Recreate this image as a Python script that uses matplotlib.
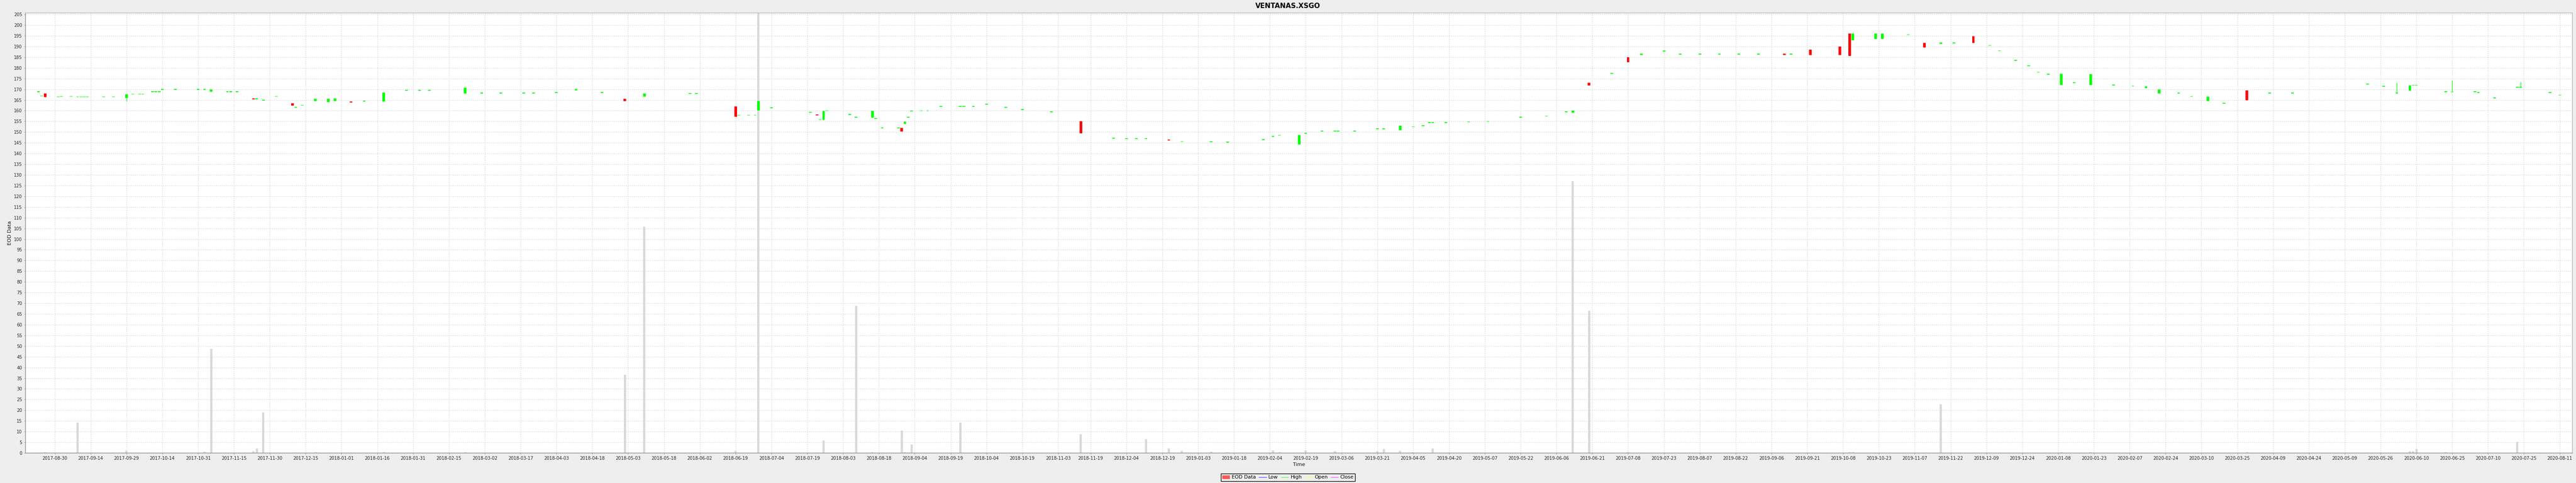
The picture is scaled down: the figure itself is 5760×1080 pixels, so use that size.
import numpy as np
import matplotlib
matplotlib.use('Agg')
import matplotlib.pyplot as plt
from matplotlib.lines import Line2D
from matplotlib.patches import Patch

# --
# data

title = 'VENTANAS.XSGO'

tick_labels = [
  '2017-08-30', '2017-09-14', '2017-09-29', '2017-10-14', '2017-10-31', '2017-11-15',
  '2017-11-30', '2017-12-15', '2018-01-01', '2018-01-16', '2018-01-31', '2018-02-15',
  '2018-03-02', '2018-03-17', '2018-04-03', '2018-04-18', '2018-05-03', '2018-05-18',
  '2018-06-02', '2018-06-19', '2018-07-04', '2018-07-19', '2018-08-03', '2018-08-18',
  '2018-09-04', '2018-09-19', '2018-10-04', '2018-10-19', '2018-11-03', '2018-11-19',
  '2018-12-04', '2018-12-19', '2019-01-03', '2019-01-18', '2019-02-04', '2019-02-19',
  '2019-03-06', '2019-03-21', '2019-04-05', '2019-04-20', '2019-05-07', '2019-05-22',
  '2019-06-06', '2019-06-21', '2019-07-08', '2019-07-23', '2019-08-07', '2019-08-22',
  '2019-09-06', '2019-09-21', '2019-10-08', '2019-10-23', '2019-11-07', '2019-11-22',
  '2019-12-09', '2019-12-24', '2020-01-08', '2020-01-23', '2020-02-07', '2020-02-24',
  '2020-03-10', '2020-03-25', '2020-04-09', '2020-04-24', '2020-05-09', '2020-05-26',
  '2020-06-10', '2020-06-25', '2020-07-10', '2020-07-25', '2020-08-11',
]

dates = [
  '2017-08-23', '2017-08-24', '2017-08-25', '2017-08-31', '2017-09-01', '2017-09-06',
  '2017-09-08', '2017-09-11', '2017-09-12', '2017-09-13', '2017-09-20', '2017-09-25',
  '2017-09-29', '2017-10-03', '2017-10-05', '2017-10-06', '2017-10-11', '2017-10-12',
  '2017-10-13', '2017-10-16', '2017-10-20', '2017-10-31', '2017-11-02', '2017-11-06',
  '2017-11-13', '2017-11-14', '2017-11-16', '2017-11-23', '2017-11-24', '2017-11-28',
  '2017-12-04', '2017-12-11', '2017-12-12', '2017-12-14', '2017-12-20', '2017-12-26',
  '2017-12-28', '2018-01-04', '2018-01-10', '2018-01-18', '2018-01-29', '2018-02-02',
  '2018-02-07', '2018-02-22', '2018-03-01', '2018-03-09', '2018-03-20', '2018-03-23',
  '2018-04-03', '2018-04-11', '2018-04-23', '2018-05-02', '2018-05-10', '2018-05-30',
  '2018-06-01', '2018-06-19', '2018-06-20', '2018-06-25', '2018-06-27', '2018-06-28',
  '2018-07-04', '2018-07-20', '2018-07-24', '2018-07-25', '2018-07-26', '2018-07-27',
  '2018-08-07', '2018-08-09', '2018-08-16', '2018-08-17', '2018-08-21', '2018-08-28',
  '2018-08-29', '2018-08-30', '2018-08-31', '2018-09-03', '2018-09-06', '2018-09-10',
  '2018-09-14', '2018-09-24', '2018-09-25', '2018-09-28', '2018-10-04', '2018-10-12',
  '2018-10-19', '2018-11-01', '2018-11-14', '2018-11-28', '2018-12-04', '2018-12-07',
  '2018-12-12', '2018-12-21', '2018-12-27', '2019-01-09', '2019-01-16', '2019-01-31',
  '2019-02-05', '2019-02-07', '2019-02-15', '2019-02-19', '2019-02-26', '2019-03-04',
  '2019-03-05', '2019-03-12', '2019-03-21', '2019-03-25', '2019-04-01', '2019-04-05',
  '2019-04-10', '2019-04-12', '2019-04-15', '2019-04-19', '2019-04-30', '2019-05-08',
  '2019-05-22', '2019-06-03', '2019-06-11', '2019-06-13', '2019-06-20', '2019-07-01',
  '2019-07-08', '2019-07-12', '2019-07-23', '2019-07-30', '2019-08-07', '2019-08-15',
  '2019-08-23', '2019-09-02', '2019-09-12', '2019-09-16', '2019-09-24', '2019-10-07',
  '2019-10-10', '2019-10-11', '2019-10-22', '2019-10-24', '2019-11-05', '2019-11-12',
  '2019-11-19', '2019-11-25', '2019-12-03', '2019-12-10', '2019-12-13', '2019-12-20',
  '2019-12-26', '2019-12-31', '2020-01-03', '2020-01-09', '2020-01-15', '2020-01-22',
  '2020-01-31', '2020-02-10', '2020-02-14', '2020-02-20', '2020-02-28', '2020-03-05',
  '2020-03-12', '2020-03-19', '2020-03-30', '2020-04-08', '2020-04-17', '2020-05-20',
  '2020-05-27', '2020-06-02', '2020-06-08', '2020-06-09', '2020-06-10', '2020-06-23',
  '2020-06-25', '2020-07-06', '2020-07-07', '2020-07-14', '2020-07-23', '2020-07-24',
  '2020-08-06', '2020-08-11',
]

opens = [
  168.9, 166.9, 168.0, 166.5, 166.7, 166.7, 166.5, 166.5, 166.5, 166.5, 166.5, 166.5,
  165.9, 167.7, 167.7, 167.7, 168.9, 168.9, 168.9, 169.9, 169.9, 169.9, 169.9, 168.9,
  168.9, 168.9, 168.9, 165.8, 165.5, 164.9, 166.7, 163.5, 161.5, 162.5, 164.5, 164.0,
  164.5, 164.3, 164.5, 164.3, 169.5, 169.5, 169.5, 168.0, 168.2, 168.2, 168.2, 168.2,
  168.5, 169.5, 168.5, 165.5, 166.5, 168.0, 168.0, 162.0, 157.9, 157.9, 157.9, 160.1,
  161.3, 159.2, 158.3, 155.8, 155.8, 160.0, 158.2, 156.9, 156.8, 156.3, 151.9, 151.9,
  152.0, 153.9, 156.9, 159.9, 160.0, 160.0, 162.0, 162.0, 162.0, 162.0, 163.0, 161.5,
  160.5, 159.5, 155.0, 147.2, 147.0, 147.0, 147.0, 146.6, 145.6, 145.5, 145.3, 146.5,
  148.0, 148.5, 144.2, 149.5, 150.5, 150.5, 150.5, 150.5, 151.5, 151.5, 151.0, 152.5,
  153.0, 154.5, 154.5, 154.5, 154.8, 155.0, 157.0, 157.5, 159.5, 159.0, 173.0, 177.5,
  185.0, 186.0, 187.6, 186.4, 186.4, 186.4, 186.4, 186.4, 186.7, 186.4, 188.5, 190.0,
  196.0, 193.0, 193.5, 193.5, 195.5, 191.6, 191.3, 191.6, 194.8, 190.5, 188.0, 183.5,
  181.0, 178.0, 177.0, 172.0, 173.0, 172.0, 172.0, 171.5, 170.5, 168.0, 168.2, 166.7,
  164.5, 163.5, 169.5, 168.2, 168.2, 172.5, 171.4, 168.3, 169.3, 171.9, 171.9, 168.9,
  168.8, 168.9, 168.4, 165.9, 170.9, 170.9, 168.4, 167.3,
]

highs = [
  168.9, 166.9, 168.0, 166.5, 166.7, 166.7, 166.5, 166.5, 166.5, 166.5, 166.5, 166.5,
  167.6, 167.7, 167.7, 167.7, 168.9, 168.9, 168.9, 169.9, 169.9, 169.9, 169.9, 170.0,
  168.9, 168.9, 168.9, 165.8, 165.5, 164.9, 166.7, 163.5, 161.5, 162.5, 165.5, 165.5,
  165.8, 164.3, 164.5, 168.5, 169.5, 169.5, 169.5, 170.8, 168.2, 168.2, 168.2, 168.2,
  168.5, 170.2, 168.5, 165.5, 168.0, 168.0, 168.0, 162.0, 157.9, 157.9, 157.9, 164.5,
  161.3, 159.2, 158.3, 155.8, 159.9, 160.0, 158.2, 156.9, 159.9, 156.3, 151.9, 151.9,
  152.0, 154.9, 156.9, 159.9, 160.0, 160.0, 162.0, 162.0, 162.0, 162.0, 163.0, 161.5,
  160.5, 159.5, 155.0, 147.2, 147.0, 147.0, 147.0, 146.6, 145.6, 145.5, 145.3, 146.5,
  148.0, 148.5, 148.7, 149.5, 150.5, 150.5, 150.5, 150.5, 151.5, 151.5, 153.0, 152.5,
  153.0, 154.5, 154.5, 154.5, 154.8, 155.0, 157.0, 157.5, 159.5, 160.0, 173.0, 177.5,
  185.0, 186.6, 188.2, 186.4, 186.4, 186.4, 186.4, 186.4, 186.7, 186.4, 188.5, 190.0,
  196.0, 196.0, 196.0, 196.0, 195.5, 191.6, 191.8, 191.6, 194.8, 190.5, 188.0, 183.5,
  181.0, 178.0, 177.0, 177.3, 173.0, 177.0, 172.0, 171.5, 171.3, 170.0, 168.2, 166.7,
  166.5, 163.5, 169.5, 168.2, 168.2, 172.5, 171.4, 173.1, 171.9, 171.9, 171.9, 168.9,
  174.0, 168.9, 168.4, 165.9, 170.9, 173.5, 168.4, 167.3,
]

lows = [
  168.9, 166.9, 166.4, 166.5, 166.7, 166.7, 166.5, 166.5, 166.5, 166.5, 166.5, 166.5,
  164.3, 167.7, 167.7, 167.7, 168.9, 168.9, 168.9, 169.9, 169.9, 169.9, 169.9, 168.9,
  168.9, 168.9, 168.9, 165.5, 165.5, 164.9, 166.7, 162.5, 161.5, 162.5, 164.5, 164.0,
  164.5, 163.8, 164.5, 164.3, 169.5, 169.5, 169.5, 168.0, 168.2, 168.2, 168.2, 168.2,
  168.5, 169.5, 168.5, 164.5, 166.5, 168.0, 168.0, 157.1, 157.9, 157.9, 157.9, 160.1,
  161.3, 159.2, 158.0, 155.8, 155.8, 160.0, 158.2, 156.9, 156.8, 156.3, 151.9, 151.9,
  150.3, 153.9, 156.9, 159.9, 160.0, 160.0, 162.0, 162.0, 162.0, 162.0, 163.0, 161.5,
  160.5, 159.5, 149.5, 147.2, 147.0, 147.0, 147.0, 146.2, 145.6, 145.5, 145.3, 146.5,
  148.0, 148.5, 144.2, 149.5, 150.5, 150.5, 150.5, 150.5, 151.5, 151.5, 151.0, 152.5,
  153.0, 154.5, 154.5, 154.5, 154.8, 155.0, 157.0, 157.5, 159.5, 159.0, 171.8, 177.5,
  182.7, 186.0, 187.6, 186.4, 186.4, 186.4, 186.4, 186.4, 186.1, 186.4, 186.0, 186.0,
  185.5, 193.0, 193.5, 193.5, 195.5, 189.5, 191.3, 191.6, 191.6, 190.5, 188.0, 183.5,
  181.0, 178.0, 177.0, 172.0, 173.0, 172.0, 172.0, 171.5, 170.5, 168.0, 168.2, 166.7,
  164.5, 163.5, 165.0, 168.2, 168.2, 172.5, 171.4, 168.3, 169.3, 171.9, 171.9, 168.9,
  168.8, 168.9, 168.4, 165.9, 170.9, 170.9, 168.4, 167.3,
]

closes = [
  168.9, 166.9, 166.4, 166.5, 166.7, 166.7, 166.5, 166.5, 166.5, 166.5, 166.5, 166.5,
  167.6, 167.7, 167.7, 167.7, 168.9, 168.9, 168.9, 169.9, 169.9, 169.9, 169.9, 170.0,
  168.9, 168.9, 168.9, 165.5, 165.5, 164.9, 166.7, 162.5, 161.5, 162.5, 165.5, 165.5,
  165.8, 163.8, 164.5, 168.5, 169.5, 169.5, 169.5, 170.8, 168.2, 168.2, 168.2, 168.2,
  168.5, 170.2, 168.5, 164.5, 168.0, 168.0, 168.0, 157.1, 157.9, 157.9, 157.9, 164.5,
  161.3, 159.2, 158.0, 155.8, 159.9, 160.0, 158.2, 156.9, 159.9, 156.3, 151.9, 151.9,
  150.3, 154.9, 156.9, 159.9, 160.0, 160.0, 162.0, 162.0, 162.0, 162.0, 163.0, 161.5,
  160.5, 159.5, 149.5, 147.2, 147.0, 147.0, 147.0, 146.2, 145.6, 145.5, 145.3, 146.5,
  148.0, 148.5, 148.7, 149.5, 150.5, 150.5, 150.5, 150.5, 151.5, 151.5, 153.0, 152.5,
  153.0, 154.5, 154.5, 154.5, 154.8, 155.0, 157.0, 157.5, 159.5, 160.0, 171.8, 177.5,
  182.7, 186.6, 188.2, 186.4, 186.4, 186.4, 186.4, 186.4, 186.1, 186.4, 186.0, 186.0,
  185.5, 196.0, 196.0, 196.0, 195.5, 189.5, 191.8, 191.6, 191.6, 190.5, 188.0, 183.5,
  181.0, 178.0, 177.0, 177.3, 173.0, 177.0, 172.0, 171.5, 171.3, 170.0, 168.2, 166.7,
  166.5, 163.5, 165.0, 168.2, 168.2, 172.5, 171.4, 168.3, 171.9, 171.9, 171.9, 168.9,
  168.8, 168.9, 168.4, 165.9, 170.9, 170.9, 168.4, 167.3,
]

volumes = [
  0.2, 0.2, 0.5, 0.1, 0.1, 0.1, 14.3, 0.1, 0.1, 0.1, 0.1, 0.3,
  1.1, 0.1, 0.1, 0.1, 0.2, 0.1, 0.1, 0.1, 0.2, 0.1, 0.7, 48.8,
  0.1, 0.1, 0.1, 0.9, 2.1, 19.0, 0.1, 0.3, 0.2, 0.2, 0.4, 0.3,
  0.3, 0.2, 0.1, 0.5, 0.1, 0.1, 0.1, 0.4, 0.1, 0.1, 0.1, 0.1,
  0.1, 0.3, 0.1, 36.5, 105.7, 0.1, 0.1, 1.0, 0.1, 0.1, 0.1, 230.0,
  0.2, 0.1, 0.3, 0.2, 5.8, 0.2, 0.2, 68.8, 0.5, 0.1, 0.2, 0.1,
  10.4, 0.5, 0.2, 4.0, 0.1, 0.1, 0.2, 14.2, 0.1, 0.1, 0.2, 0.1,
  0.1, 0.1, 8.8, 0.1, 0.1, 0.1, 6.5, 2.1, 1.0, 0.6, 0.35, 0.1,
  1.3, 0.35, 0.1, 1.3, 0.1, 0.8, 0.1, 0.1, 0.8, 1.8, 1.0, 0.4,
  0.1, 0.1, 2.0, 0.1, 0.1, 0.1, 0.1, 0.1, 0.1, 127.0, 66.5, 0.3,
  0.5, 0.3, 0.3, 0.1, 0.1, 0.1, 0.1, 0.1, 0.2, 0.1, 0.3, 0.3,
  0.5, 0.4, 0.3, 0.3, 0.1, 0.3, 22.7, 0.1, 0.3, 0.1, 0.1, 0.1,
  0.1, 0.1, 0.1, 0.4, 0.1, 0.4, 0.1, 0.1, 0.2, 0.3, 0.1, 0.1,
  0.3, 0.1, 0.5, 0.1, 0.1, 0.1, 0.1, 0.3, 0.8, 0.8, 1.8, 0.4,
  0.3, 0.1, 0.1, 0.1, 5.2, 0.3, 0.1, 0.1,
]

# --
# segmented (mon-fri) time axis

start = np.datetime64('2017-08-30')
x = np.busday_count(start, np.array(dates, dtype='datetime64[D]'))
xt = np.busday_count(start, np.array(tick_labels, dtype='datetime64[D]'))

o = np.array(opens)
h = np.array(highs)
l = np.array(lows)
c = np.array(closes)
v = np.array(volumes)

up = c >= o
cols = np.where(up, '#00FF00', '#FF0000')

# --

def do_plot():
  W, H = 5760, 1080
  fig = plt.figure(figsize=(W / 100, H / 100), dpi=100, facecolor='#EEEEEE')
  ax = fig.add_axes([56.6 / W, 1 - 1013 / H, (5752 - 56.6) / W, (1013 - 29.3) / H])
  ax.set_facecolor('white')

  # volume behind the candles
  ax.bar(x, v, width=0.7, color='#D9D9D9', zorder=1)

  # wicks + bodies
  ax.vlines(x, l, h, colors=cols, lw=0.9, zorder=3)
  body = np.abs(c - o)
  min_h = 0.35
  bot = np.where(body < min_h, np.minimum(o, c) - min_h / 2, np.minimum(o, c))
  ax.bar(x, np.maximum(body, min_h), bottom=bot, width=0.8, color=cols,
         linewidth=0, zorder=4)

  ax.set_xlim(-9.05, 772.9)
  ax.set_ylim(0, 205.6)
  ax.set_yticks(np.arange(0, 206, 5))
  ax.set_xticks(xt)
  ax.set_xticklabels(tick_labels)

  ax.grid(True, color='#D4D4D4', linestyle=(0, (2, 2)), linewidth=0.8, zorder=0)
  ax.set_axisbelow(True)
  ax.tick_params(axis='both', labelsize=7, length=2, width=0.8, color='#A0A0A0',
                 labelcolor='#222222', pad=3)

  for s in ['left', 'bottom']:
    ax.spines[s].set_color('#9A9A9A')
    ax.spines[s].set_linewidth(1.2)
  for s in ['top', 'right']:
    ax.spines[s].set_color('#BDBDBD')
    ax.spines[s].set_linewidth(1.2)

  ax.set_xlabel('Time', fontsize=8, labelpad=3, color='#111111')
  ax.set_ylabel('EOD Data', fontsize=8, labelpad=3, color='#111111')

  fig.text(0.5, 1 - 13 / H, title, ha='center', va='center',
           fontsize=11, fontweight='bold')

  handles = [
    Patch(facecolor='#FF5555', edgecolor='none'),
    Line2D([], [], color='#5555FF', lw=1),
    Line2D([], [], color='#55FF55', lw=1),
    Line2D([], [], color='#FFFF55', lw=1),
    Line2D([], [], color='#FF55FF', lw=1),
  ]
  names = ['EOD Data', 'Low', 'High', 'Open', 'Close']
  leg = fig.legend(handles, names, loc='center', bbox_to_anchor=(0.5, 1 - 1067.5 / H),
                   ncol=5, fontsize=8, frameon=True, fancybox=False,
                   edgecolor='black', facecolor='#EEEEEE', framealpha=1,
                   handlelength=1.5, handleheight=0.7, handletextpad=0.4,
                   columnspacing=0.6, borderpad=0.3, borderaxespad=0)
  leg.get_frame().set_linewidth(1.0)

  fig.savefig('out.png', dpi=100, facecolor=fig.get_facecolor())

do_plot()
